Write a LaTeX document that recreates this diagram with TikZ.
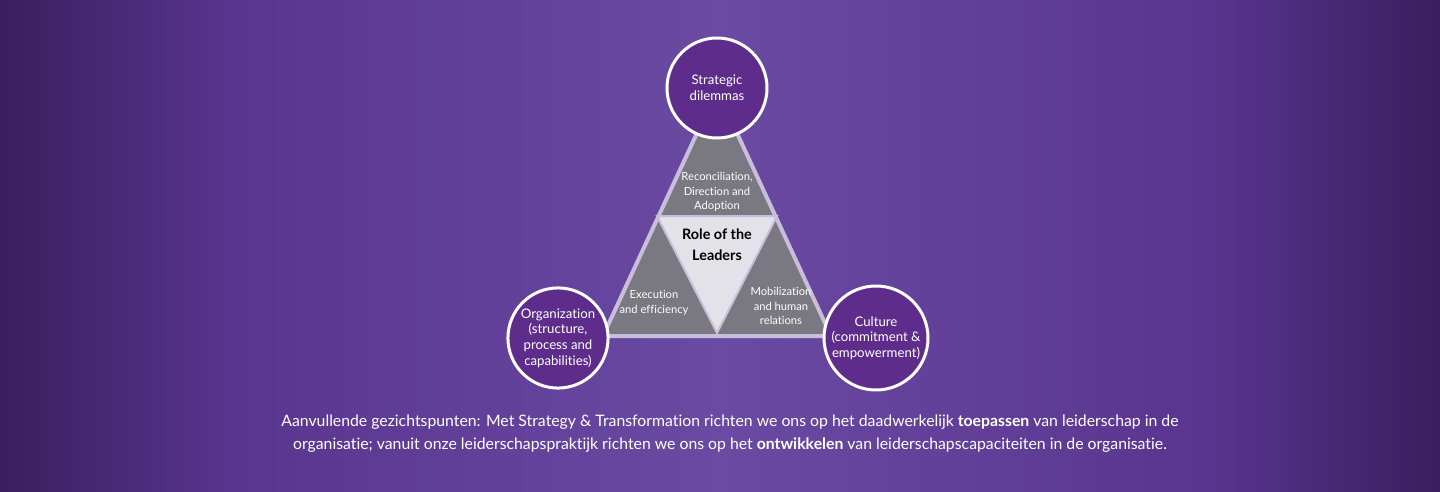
\documentclass[tikz,border=0pt]{standalone}
\usepackage{fontspec}
\setmainfont{Lato}[Ligatures={NoCommon}]
\usetikzlibrary{positioning, calc}

\definecolor{bgdark}{HTML}{3A1E5E}
\definecolor{bgmid}{HTML}{5A3590}
\definecolor{bglight}{HTML}{6A4AA2}
\definecolor{circfill}{HTML}{5E2D8C}
\definecolor{tri}{HTML}{7A7880}
\definecolor{triedge}{HTML}{C8BEDC}
\definecolor{inner}{HTML}{E2E2E8}

\tikzset{
    topic/.style={circle, draw=white, line width=1.5pt, fill=circfill, minimum size=50pt,
        align=center, text=white, font=\fontsize{6.6}{7.8}\selectfont, inner sep=1pt},
    part/.style={align=center, text=white, font=\fontsize{5.6}{7.3}\selectfont}
}

\begin{document}
\begin{tikzpicture}[x=0.5pt, y=-0.5pt]

    % Background
    \useasboundingbox (0,0) rectangle (1440,492);
    \shade[left color=bgdark, right color=bgmid] (0,0) rectangle (240,492);
    \shade[left color=bgmid, right color=bglight] (239.5,0) rectangle (720.5,492);
    \shade[left color=bglight, right color=bgmid] (720,0) rectangle (1200.5,492);
    \shade[left color=bgmid, right color=bgdark] (1200,0) rectangle (1440,492);

    % Triangles
    \coordinate (apex) at (717,90);
    \coordinate (bl) at (603,336);
    \coordinate (br) at (831,336);
    \fill[tri] (apex) -- (bl) -- (br) -- cycle;
    \fill[inner, draw=triedge, line width=1pt] (657,216) -- (777,216) -- (717,333) -- cycle;
    \draw[triedge, line width=2pt, line join=round] (apex) -- (bl) -- (br) -- cycle;

    % Labels inside
    \node[part] (rda) at (717,192) {Reconciliation,\\Direction and\\Adoption};
    \node[align=center, font=\bfseries\fontsize{7.2}{10.5}\selectfont] (role) at (717,245) {Role of the\\Leaders};
    \node[part] (exe) at (654,303) {Execution\\and efficiency};
    \node[part] (mob) at (781,306) {Mobilization\\and human\\relations};

    % Circles
    \node[topic] (strat) at (717,88) {Strategic\\dilemmas};
    \node[topic] (org) at (558,338) {Organization\\(structure,\\process and\\capabilities)};
    \node[topic] (cult) at (876,338) {Culture\\(commitment \&\\empowerment)};

    % Caption
    \node[align=center, text=white, font=\fontsize{7.9}{11.5}\selectfont] (caption) at (730,434)
        {Aanvullende gezichtspunten: Met Strategy \& Transformation richten we ons op het daadwerkelijk \textbf{toepassen} van leiderschap in de\\
         organisatie; vanuit onze leiderschapspraktijk richten we ons op het \textbf{ontwikkelen} van leiderschapscapaciteiten in de organisatie.};

\end{tikzpicture}
\end{document}
